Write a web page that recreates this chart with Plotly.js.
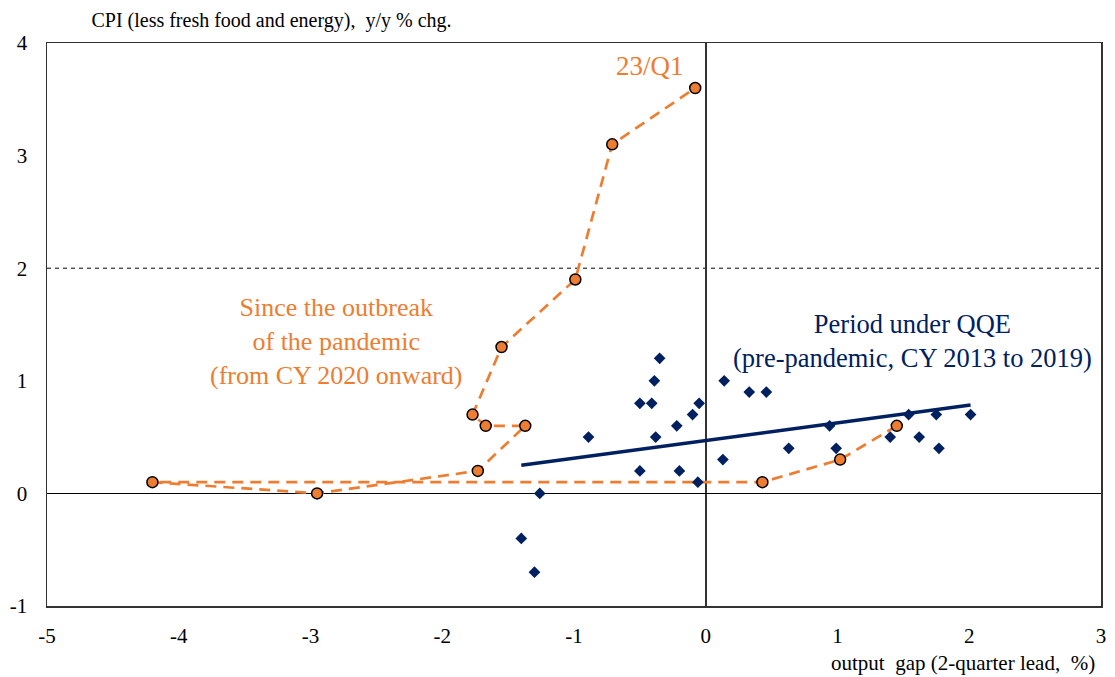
<!DOCTYPE html>
<html>
<head>
<meta charset="utf-8">
<script src="https://cdn.plot.ly/plotly-3.0.1.min.js"></script>
<style>html,body{margin:0;padding:0;background:#fff;}#chart{width:1115px;height:677px;}</style>
</head>
<body>
<div id="chart"></div>
<script>
// QQE period (CY 2013-2019): output gap (2-quarter lead) vs core CPI
var qqeX = [-0.35,-0.39,-0.50,-0.41,-0.05,-0.10,-0.22,-0.89,-0.38,0.14,0.13,-0.50,-0.20,-0.06,-1.26,-1.40,-1.30,0.33,0.46,0.63,0.94,0.99,1.40,1.54,1.62,1.75,1.77,2.01];
var qqeY = [1.2,1.0,0.8,0.8,0.8,0.7,0.6,0.5,0.5,1.0,0.3,0.2,0.2,0.1,0.0,-0.4,-0.7,0.9,0.9,0.4,0.6,0.4,0.5,0.7,0.5,0.7,0.4,0.7];
// Trend line for the QQE period (end points)
var trendX = [-1.40, 2.01];
var trendY = [0.25, 0.785];
// Since the pandemic (2020/Q1 to 2023/Q1)
var pandX = [1.45, 1.02, 0.43, -4.20, -2.95, -1.73, -1.37, -1.67, -1.77, -1.55, -0.99, -0.71, -0.08];
var pandY = [0.6, 0.3, 0.1, 0.1, 0.0, 0.2, 0.6, 0.6, 0.7, 1.3, 1.9, 3.1, 3.6];
// Reference line (2% target)
var targetY = 2;
var xTicks = [-5,-4,-3,-2,-1,0,1,2,3];
var yTicks = [-1,0,1,2,3,4];

var ORANGE = '#ED7D31', NAVY = '#002060';
var FONT = 'Liberation Serif';

var traces = [
  {x: pandX, y: pandY, mode: 'lines+markers', type: 'scatter',
   line: {color: ORANGE, width: 2.7, dash: '11px,7px'},
   marker: {color: ORANGE, size: 11, line: {color: '#000', width: 1.5}}},
  {x: qqeX, y: qqeY, mode: 'markers', type: 'scatter',
   marker: {color: NAVY, size: 9, symbol: 'diamond'}},
  {x: trendX, y: trendY, mode: 'lines', type: 'scatter',
   line: {color: NAVY, width: 3.5}}
];

var layout = {
  width: 1115, height: 677,
  margin: {l: 47, r: 14, t: 43, b: 71},
  paper_bgcolor: '#fff', plot_bgcolor: '#fff',
  showlegend: false,
  font: {family: FONT, size: 21, color: '#000'},
  title: {text: 'CPI (less fresh food and energy),  y/y % chg.', x: 47/1115, xanchor: 'left', xref: 'paper',
          y: 1 - 20/677, yanchor: 'middle', font: {family: FONT, size: 20, color: '#000'}},
  xaxis: {range: [-5, 3], tickvals: xTicks, ticktext: xTicks.map(String), showgrid: false,
          zeroline: true, zerolinecolor: '#333', zerolinewidth: 1.5,
          showline: true, mirror: true, linecolor: '#333', linewidth: 1.5,
          ticks: '', ticklabelstandoff: 10, tickfont: {family: FONT, size: 21, color: '#000'}},
  yaxis: {range: [-1, 4], tickvals: yTicks, ticktext: yTicks.map(String), showgrid: false,
          zeroline: true, zerolinecolor: '#000', zerolinewidth: 1.5,
          showline: true, mirror: true, linecolor: '#333', linewidth: 1.5,
          ticks: '', ticklabelstandoff: 14, tickfont: {family: FONT, size: 21, color: '#000'}},
  shapes: [
    {type: 'line', xref: 'paper', x0: 0, x1: 1, yref: 'y', y0: targetY, y1: targetY,
     line: {color: '#000', width: 1, dash: '4px,4px'}, layer: 'below'}
  ],
  annotations: [
    {xref: 'x', yref: 'y', x: -0.42, y: 3.8, text: '23/Q1', showarrow: false,
     font: {family: FONT, size: 27, color: ORANGE}},
    {xref: 'x', yref: 'y', x: -2.81, y: 1.35, text: 'Since the outbreak<br>of the pandemic<br>(from CY 2020 onward)',
     showarrow: false, align: 'center', font: {family: FONT, size: 26, color: ORANGE}},
    {xref: 'x', yref: 'y', x: 1.57, y: 1.35, text: 'Period under QQE<br>(pre-pandemic, CY 2013 to 2019)',
     showarrow: false, align: 'center', font: {family: FONT, size: 26.5, color: NAVY}},
    {xref: 'paper', yref: 'paper', x: 1, y: 0, yshift: -57, xshift: -4, xanchor: 'right', yanchor: 'middle',
     text: 'output  gap (2-quarter lead,  %)', showarrow: false,
     font: {family: FONT, size: 21, color: '#000'}}
  ]
};

Plotly.newPlot('chart', traces, layout, {displayModeBar: false, staticPlot: true});
</script>
</body>
</html>
